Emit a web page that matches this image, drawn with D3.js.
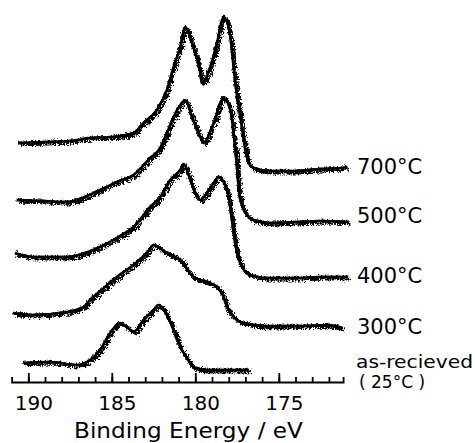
<!DOCTYPE html>
<html>
<head>
<meta charset="utf-8">
<script src="https://cdn.jsdelivr.net/npm/d3@7"></script>
<style>
  html, body { margin: 0; padding: 0; background: #fff; }
  svg { display: block; }
  text { font-family: "DejaVu Sans", sans-serif; fill: #000; }
</style>
</head>
<body>
<svg id="chart" width="475" height="443"></svg>
<script>
// Binding energies (eV) and relative intensities (arb. units) of each spectrum
const energy700 = [190.6, 189.0, 187.5, 186.3, 185.0, 183.7, 183.1, 182.3, 181.7, 181.3, 180.9, 180.6, 180.2, 179.7, 179.6, 179.1, 178.7, 178.3, 177.9, 177.6, 177.3, 177.0, 176.8, 176.5, 175.5, 174.0, 172.5, 171.3, 170.9];
const counts700 = [2.7, 2.8, 2.9, 3.2, 3.3, 3.7, 4.7, 6.0, 8.0, 10.3, 12.3, 14.3, 12.7, 9.7, 8.7, 10.3, 12.7, 15.3, 13.3, 8.7, 5.3, 2.0, 0.7, 0.2, -0.1, -0.1, 0.1, 0.2, 0.3];

const energy500 = [190.7, 189.0, 187.7, 185.7, 184.7, 183.7, 182.7, 182.1, 181.7, 181.3, 180.8, 180.6, 180.2, 179.7, 179.5, 178.9, 178.3, 177.9, 177.6, 177.3, 176.9, 176.5, 175.5, 174.0, 172.5, 170.8];
const counts500 = [2.2, 2.1, 2.0, 3.2, 4.0, 4.7, 6.4, 7.4, 8.9, 10.5, 11.9, 12.2, 10.5, 8.5, 7.9, 9.9, 12.4, 11.2, 7.2, 2.2, 0.7, 0.2, -0.1, 0.0, 0.1, 0.0];

const energy400 = [190.8, 189.7, 187.7, 185.7, 184.7, 183.7, 182.7, 182.1, 181.5, 180.9, 180.7, 180.3, 180.0, 179.7, 179.3, 178.9, 178.6, 178.3, 178.0, 177.7, 177.5, 177.2, 176.7, 175.7, 174.0, 172.5, 170.85];
const counts400 = [2.4, 2.0, 2.0, 3.0, 3.9, 5.0, 7.0, 8.0, 9.7, 10.7, 11.3, 9.7, 8.4, 7.7, 8.4, 9.4, 10.0, 9.5, 8.0, 4.4, 2.4, 1.0, 0.2, -0.1, -0.1, 0.0, 0.0];

const energy300 = [190.9, 189.7, 187.7, 186.7, 186.3, 185.4, 184.7, 183.7, 182.9, 182.5, 181.7, 180.9, 180.1, 179.3, 178.7, 178.3, 178.1, 177.7, 177.1, 175.7, 174.0, 172.0, 171.2];
const counts300 = [1.2, 1.0, 1.3, 1.8, 2.5, 3.8, 4.8, 6.0, 7.2, 8.0, 7.2, 6.5, 4.8, 4.3, 3.8, 2.8, 1.8, 0.8, 0.2, -0.1, -0.1, 0.0, -0.3];

const energy25 = [190.3, 188.7, 187.1, 186.3, 185.7, 185.1, 184.5, 184.1, 183.7, 183.1, 182.5, 182.2, 181.7, 181.3, 180.9, 180.5, 180.1, 179.3, 178.0, 176.8];
const counts25 = [0.7, 0.8, 0.5, 1.0, 2.0, 3.7, 4.7, 4.3, 3.8, 5.0, 6.0, 6.5, 5.5, 4.0, 2.3, 1.2, 0.3, 0.0, 0.0, 0.0];

// Vertical offset of each spectrum in the stack (arb. units)
const stackOffsets = [1.2, 5.7, 10.5, 16.0, 21.2];
const sampleLabels = ["as-recieved", "300°C", "400°C", "500°C", "700°C"];
const majorTicks = [190, 185, 180, 175];
const minorTicks = d3.range(172, 191);
const xTitle = "Binding Energy / eV";

const series = [
  { energy: energy25, counts: counts25 },
  { energy: energy300, counts: counts300 },
  { energy: energy400, counts: counts400 },
  { energy: energy500, counts: counts500 },
  { energy: energy700, counts: counts700 }
].map((s, i) => ({
  label: sampleLabels[i],
  offset: stackOffsets[i],
  points: s.energy.map((e, j) => ({ e, c: s.counts[j] }))
}));

const svg = d3.select("#chart");

const x = d3.scaleLinear().domain([191, 171.15]).range([11.6, 343.1]);
const y = d3.scaleLinear().domain([0, 37]).range([382, 12]);

// Grainy trace texture: jittered copies merged over the solid trace
const defs = svg.append("defs");
const f = defs.append("filter").attr("id", "grain")
  .attr("x", "-5%").attr("y", "-10%").attr("width", "110%").attr("height", "120%");
f.append("feTurbulence").attr("type", "turbulence")
  .attr("baseFrequency", "0.9 0.35").attr("numOctaves", 2).attr("seed", 3).attr("result", "t");
f.append("feDisplacementMap").attr("in", "SourceGraphic").attr("in2", "t")
  .attr("scale", 7).attr("xChannelSelector", "R").attr("yChannelSelector", "G")
  .attr("result", "d");
f.append("feTurbulence").attr("type", "fractalNoise")
  .attr("baseFrequency", "1.2 0.5").attr("numOctaves", 1).attr("seed", 11).attr("result", "t2");
f.append("feDisplacementMap").attr("in", "SourceGraphic").attr("in2", "t2")
  .attr("scale", 6).attr("xChannelSelector", "B").attr("yChannelSelector", "R")
  .attr("result", "d2");
const merge = f.append("feMerge");
merge.append("feMergeNode").attr("in", "SourceGraphic");
merge.append("feMergeNode").attr("in", "d");
merge.append("feMergeNode").attr("in", "d");
merge.append("feMergeNode").attr("in", "d2");

const line = d3.line()
  .curve(d3.curveMonotoneX)
  .x(d => x(d.e))
  .y(d => y(d.c));

const traces = svg.append("g").attr("filter", "url(#grain)");
series.forEach(s => {
  traces.append("path")
    .datum(s.points.map(p => ({ e: p.e, c: p.c + s.offset })))
    .attr("fill", "none")
    .attr("stroke", "#000")
    .attr("stroke-width", 2.6)
    .attr("stroke-linejoin", "round")
    .attr("d", line);
});

// Energy axis: ticks point up into the plot, labels below
const axisY = 382;
svg.append("g")
  .attr("transform", `translate(0,${axisY})`)
  .call(d3.axisBottom(x).tickValues(minorTicks).tickSize(-5).tickSizeOuter(-5).tickFormat(""))
  .call(g => g.selectAll("path, line").attr("stroke", "#000").attr("stroke-width", 1.8));

svg.append("g")
  .attr("transform", `translate(0,${axisY})`)
  .call(d3.axisBottom(x).tickValues(majorTicks).tickSize(-9).tickSizeOuter(0).tickPadding(14).tickFormat(d3.format("d")))
  .call(g => g.select(".domain").remove())
  .call(g => g.selectAll("line").attr("stroke", "#000").attr("stroke-width", 1.8))
  .call(g => g.selectAll("text")
    .attr("font-family", "DejaVu Sans, sans-serif")
    .attr("font-size", 20)
    .attr("fill", "#000")
    .attr("dx", 5));

svg.append("text")
  .attr("x", 74).attr("y", 438)
  .attr("font-size", 21)
  .attr("textLength", 229).attr("lengthAdjust", "spacingAndGlyphs")
  .text(xTitle);

// Sample labels at the right end of each trace
const labelBaselines = [368, 334, 283, 223, 174];
series.forEach((s, i) => {
  if (i === 0) {
    svg.append("text").attr("x", 356).attr("y", labelBaselines[i])
      .attr("font-size", 17).attr("textLength", 117).attr("lengthAdjust", "spacingAndGlyphs")
      .text(s.label);
    svg.append("text").attr("x", 359).attr("y", 388)
      .attr("font-size", 17)
      .text("( 25°C )");
  } else {
    svg.append("text").attr("x", 357).attr("y", labelBaselines[i])
      .attr("font-size", 21)
      .attr("font-family", "Liberation Sans, sans-serif")
      .text(s.label);
  }
});
</script>
</body>
</html>
